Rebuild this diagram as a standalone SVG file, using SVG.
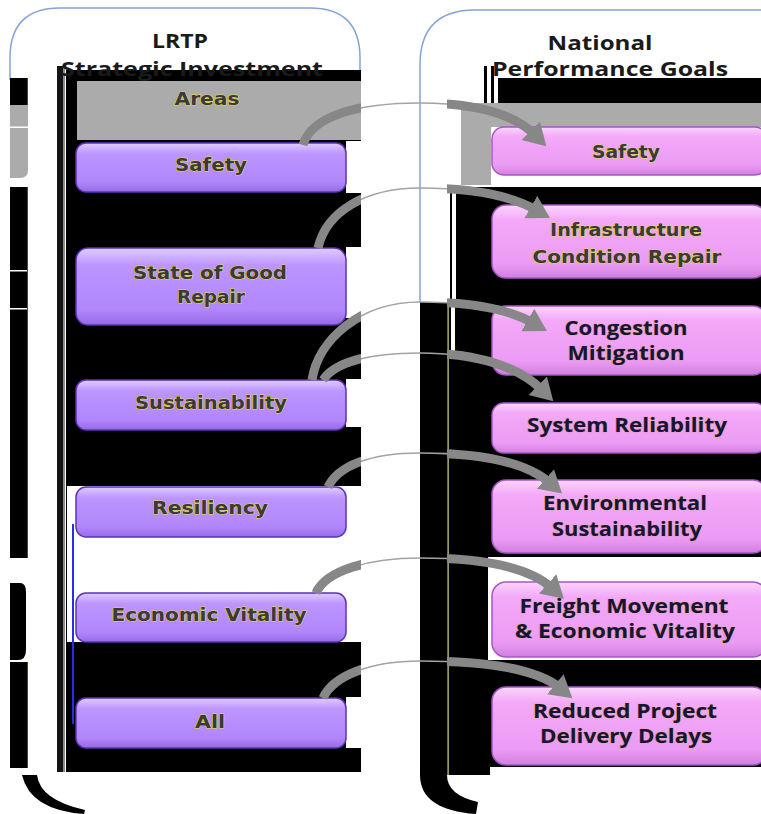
<svg xmlns="http://www.w3.org/2000/svg" width="761" height="814" viewBox="0 0 761 814">
  <defs>
    <style>
      .frame { fill: none; stroke: #86a3d8; stroke-width: 1.5; }
      .blk { fill: #000; }
      .gry { fill: #ababab; }
      .wht { fill: #fff; }
      .lnode { fill: url(#lavender); stroke: #5b33b8; stroke-width: 1.5; }
      .rnode { fill: url(#orchid); stroke: #a557c4; stroke-width: 1.5; }
      .title { font-family: "Open Sans", "Liberation Sans", sans-serif; font-weight: 700; font-size: 19px; fill: #1a1a1a; text-anchor: middle; }
      .wide { font-family: "DejaVu Sans", "Liberation Sans", sans-serif; font-weight: 700; font-size: 18px; fill: #3a3a3a; text-anchor: middle; stroke: #e3d64a; stroke-width: 1.1; paint-order: stroke; }
      .goal { font-family: "Open Sans", "Liberation Sans", sans-serif; font-weight: 700; font-size: 19px; fill: #15153a; text-anchor: middle; stroke: #d9a050; stroke-width: 0.7; paint-order: stroke; }
      .thin { fill: none; stroke: #a3a3a3; stroke-width: 1.5; }
      .thick { fill: none; stroke: #878787; stroke-width: 9; marker-end: url(#head); }
    </style>
    <linearGradient id="lavender" x1="0" y1="0" x2="0" y2="1">
      <stop offset="0" stop-color="#e0ccff"/>
      <stop offset="0.22" stop-color="#bc95ff"/>
      <stop offset="0.8" stop-color="#b186fb"/>
      <stop offset="1" stop-color="#966ae4"/>
    </linearGradient>
    <linearGradient id="orchid" x1="0" y1="0" x2="0" y2="1">
      <stop offset="0" stop-color="#fbd6fd"/>
      <stop offset="0.2" stop-color="#f3a9f8"/>
      <stop offset="0.8" stop-color="#ec9bf4"/>
      <stop offset="1" stop-color="#d07fdf"/>
    </linearGradient>
    <marker id="head" markerUnits="userSpaceOnUse" markerWidth="32" markerHeight="32" viewBox="0 0 32 32" refX="6" refY="16" orient="auto">
      <path d="M0,3 L22,16 L0,29 Z" fill="#878787"/>
    </marker>
    <clipPath id="arms">
      <rect x="0" y="0" width="361" height="814"/>
      <rect x="447" y="0" width="314" height="814"/>
    </clipPath>
  </defs>

  <rect x="0" y="0" width="761" height="814" fill="#fff"/>

  <!-- container outlines -->
  <path class="frame" d="M10,80 L10,58 Q10,8 60,8 L310,8 Q360,8 360,58 L360,80"/>
  <path class="frame" d="M420,303 L420,65 Q420,10 475,10 L761,10"/>

  <!-- left outer strip -->
  <g id="left-strip">
    <rect class="blk" x="10" y="78" width="18" height="27"/>
    <path class="gry" d="M10,105 H28 V170 Q28,178 20,178 H10 Z"/>
    <rect class="wht" x="10" y="126.5" width="18" height="1.5"/>
    <rect class="blk" x="10" y="187" width="18" height="371"/>
    <rect class="wht" x="10" y="270" width="18" height="1.5"/>
    <rect class="wht" x="10" y="308" width="18" height="1.5"/>
    <path class="blk" d="M10,583 H20 Q26,583 26,592 V650 Q26,660 18,660 H10 Z"/>
    <rect class="blk" x="10" y="662" width="18" height="106"/>
    <path d="M27.5,78 V105 M27.5,187 V558 M27.5,662 V768" stroke="#3434f0" stroke-width="1" fill="none"/>
    <path class="blk" d="M22,775 H37 Q40,800 85,810 L84,814 Q30,810 22,775 Z"/>
  </g>

  <!-- left panel background -->
  <g id="left-panel">
    <rect x="57" y="66" width="6" height="706" fill="#141414"/>
    <rect x="63" y="66" width="2" height="706" fill="#8c8c8c"/>
    <rect class="blk" x="66" y="70" width="295" height="702"/>
    <rect class="gry" x="77" y="81" width="284" height="59"/>
    <rect class="wht" x="346" y="141" width="15" height="52"/>
    <rect class="wht" x="346" y="247" width="15" height="71"/>
    <rect class="wht" x="346" y="379" width="15" height="48"/>
    <rect class="wht" x="67" y="486" width="294" height="156"/>
    <rect class="wht" x="346" y="697" width="15" height="51"/>
    <rect x="72" y="524" width="2" height="200" fill="#2a2af0"/>
  </g>

  <!-- right panel background -->
  <g id="right-panel">
    <rect class="blk" x="484" y="66" width="3" height="37"/>
    <rect class="blk" x="491" y="66" width="3" height="37"/>
    <rect class="blk" x="498" y="78" width="263" height="25"/>
    <rect class="gry" x="461" y="103" width="300" height="24"/>
    <rect class="gry" x="461" y="103" width="30" height="82"/>
    <rect class="blk" x="450" y="187" width="2" height="115"/>
    <rect class="blk" x="456" y="187" width="305" height="115"/>
    <rect class="blk" x="447" y="302" width="314" height="465"/>
    <rect class="blk" x="447" y="767" width="43" height="8"/>
    <path class="blk" d="M420,302 H447 V775 Q447,795 478,802 L476,814 Q420,810 420,775 Z"/>
    <rect x="447.5" y="302" width="1.2" height="473" fill="#d8d88a"/>
    <rect class="wht" x="451" y="304" width="4" height="49"/>
    <rect class="wht" x="488" y="557" width="273" height="103"/>
  </g>

  <!-- headings -->
  <g id="headings">
    <text class="title" x="180" y="48" textLength="56" lengthAdjust="spacingAndGlyphs">LRTP</text>
    <text class="title" x="192" y="76" textLength="262" lengthAdjust="spacingAndGlyphs">Strategic Investment</text>
    <text class="wide" x="207" y="105" textLength="65" lengthAdjust="spacingAndGlyphs">Areas</text>
    <text class="title" x="600" y="50" textLength="105" lengthAdjust="spacingAndGlyphs">National</text>
    <text class="title" x="610" y="76" textLength="236" lengthAdjust="spacingAndGlyphs">Performance Goals</text>
  </g>

  <!-- LRTP strategic investment areas -->
  <g id="area-safety">
    <rect class="lnode" x="76" y="143" width="270" height="49" rx="10"/>
    <text class="wide" x="211" y="171" textLength="72" lengthAdjust="spacingAndGlyphs">Safety</text>
  </g>
  <g id="area-good-repair">
    <rect class="lnode" x="76" y="248" width="270" height="77" rx="12"/>
    <text class="wide" x="210" y="279" textLength="154" lengthAdjust="spacingAndGlyphs">State of Good</text>
    <text class="wide" x="211" y="303" textLength="68" lengthAdjust="spacingAndGlyphs">Repair</text>
  </g>
  <g id="area-sustainability">
    <rect class="lnode" x="76" y="380" width="270" height="50" rx="10"/>
    <text class="wide" x="211" y="409" textLength="152" lengthAdjust="spacingAndGlyphs">Sustainability</text>
  </g>
  <g id="area-resiliency">
    <rect class="lnode" x="76" y="487" width="270" height="50" rx="10"/>
    <text class="wide" x="210" y="514" textLength="116" lengthAdjust="spacingAndGlyphs">Resiliency</text>
  </g>
  <g id="area-economic-vitality">
    <rect class="lnode" x="76" y="593" width="270" height="49" rx="10"/>
    <text class="wide" x="209" y="621" textLength="195" lengthAdjust="spacingAndGlyphs">Economic Vitality</text>
  </g>
  <g id="area-all">
    <rect class="lnode" x="76" y="698" width="270" height="50" rx="10"/>
    <text class="wide" x="210" y="728" textLength="30" lengthAdjust="spacingAndGlyphs">All</text>
  </g>

  <!-- national performance goals -->
  <g id="goal-safety">
    <rect class="rnode" x="492" y="127" width="275" height="48" rx="12"/>
    <text class="wide" x="626" y="158" textLength="68" lengthAdjust="spacingAndGlyphs">Safety</text>
  </g>
  <g id="goal-infrastructure">
    <rect class="rnode" x="492" y="205" width="275" height="73" rx="14"/>
    <text class="wide" x="626" y="236" textLength="152" lengthAdjust="spacingAndGlyphs">Infrastructure</text>
    <text class="wide" x="627" y="263" textLength="189" lengthAdjust="spacingAndGlyphs">Condition Repair</text>
  </g>
  <g id="goal-congestion">
    <rect class="rnode" x="492" y="306" width="275" height="69" rx="14"/>
    <text class="goal" x="626" y="335" textLength="123" lengthAdjust="spacingAndGlyphs">Congestion</text>
    <text class="goal" x="626" y="360" textLength="117" lengthAdjust="spacingAndGlyphs">Mitigation</text>
  </g>
  <g id="goal-reliability">
    <rect class="rnode" x="492" y="403" width="275" height="50" rx="12"/>
    <text class="goal" x="627" y="432" textLength="200" lengthAdjust="spacingAndGlyphs">System Reliability</text>
  </g>
  <g id="goal-environment">
    <rect class="rnode" x="492" y="480" width="275" height="73" rx="14"/>
    <text class="goal" x="625" y="510" textLength="164" lengthAdjust="spacingAndGlyphs">Environmental</text>
    <text class="goal" x="627" y="536" textLength="150" lengthAdjust="spacingAndGlyphs">Sustainability</text>
  </g>
  <g id="goal-freight">
    <rect class="rnode" x="492" y="582" width="275" height="75" rx="14"/>
    <text class="goal" x="624" y="613" textLength="209" lengthAdjust="spacingAndGlyphs">Freight Movement</text>
    <text class="goal" x="625" y="638" textLength="220" lengthAdjust="spacingAndGlyphs">&amp; Economic Vitality</text>
  </g>
  <g id="goal-delivery">
    <rect class="rnode" x="492" y="687" width="275" height="78" rx="14"/>
    <text class="goal" x="625" y="718" textLength="184" lengthAdjust="spacingAndGlyphs">Reduced Project</text>
    <text class="goal" x="626" y="743" textLength="172" lengthAdjust="spacingAndGlyphs">Delivery Delays</text>
  </g>

  <!-- curved links from areas to goals -->
  <g id="connectors">
    <g id="links-thin">
      <path class="thin" d="M303,145 C312,115 360,103 420,103 C478,103 515,115 535,135"/>
      <path class="thin" d="M318,248 C326,212 365,188 420,188 C478,188 515,198 536,210"/>
      <path class="thin" d="M312,380 C318,340 360,302 420,302 C478,302 512,311 533,323"/>
      <path class="thin" d="M323,380 C335,362 370,353 420,353 C480,353 520,368 542,390"/>
      <path class="thin" d="M328,487 C338,466 370,453 420,453 C485,453 527,463 550,483"/>
      <path class="thin" d="M316,593 C326,570 370,558 420,558 C485,558 530,568 552,588"/>
      <path class="thin" d="M323,698 C333,676 370,661 420,661 C490,661 538,670 560,688"/>
    </g>
    <g id="links-thick" clip-path="url(#arms)">
      <path class="thick" d="M303,145 C312,115 360,103 420,103 C478,103 515,115 535,135"/>
      <path class="thick" d="M318,248 C326,212 365,188 420,188 C478,188 515,198 536,210"/>
      <path class="thick" d="M312,380 C318,340 360,302 420,302 C478,302 512,311 533,323"/>
      <path class="thick" d="M323,380 C335,362 370,353 420,353 C480,353 520,368 542,390"/>
      <path class="thick" d="M328,487 C338,466 370,453 420,453 C485,453 527,463 550,483"/>
      <path class="thick" d="M316,593 C326,570 370,558 420,558 C485,558 530,568 552,588"/>
      <path class="thick" d="M323,698 C333,676 370,661 420,661 C490,661 538,670 560,688"/>
    </g>
  </g>
</svg>
